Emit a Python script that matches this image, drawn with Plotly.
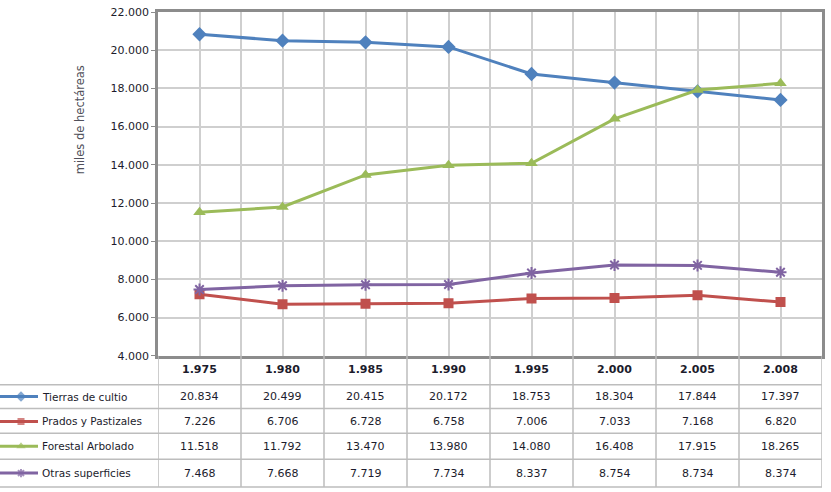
import plotly.graph_objects as go

years = [1975, 1980, 1985, 1990, 1995, 2000, 2005, 2008]
series_names = ["Tierras de cultio", "Prados y Pastizales", "Forestal Arbolado", "Otras superficies"]
tierras = [20834, 20499, 20415, 20172, 18753, 18304, 17844, 17397]
prados = [7226, 6706, 6728, 6758, 7006, 7033, 7168, 6820]
forestal = [11518, 11792, 13470, 13980, 14080, 16408, 17915, 18265]
otras = [7468, 7668, 7719, 7734, 8337, 8754, 8734, 8374]
y_ticks = [4000, 6000, 8000, 10000, 12000, 14000, 16000, 18000, 20000, 22000]

series = [tierras, prados, forestal, otras]
colors = ["#4F81BD", "#C0504D", "#9BBB59", "#8064A2"]
symbols = ["diamond", "square", "triangle-up", "asterisk-open"]
msizes = [11, 10, 11, 10]

W, H = 831, 492
ML, MR, MT, MB = 0, 9, 12, 4
PW, PH = W - ML - MR, H - MT - MB
FONT = "DejaVu Sans"
TXT = "#1c1c2c"


def px(x):
    return (x - ML) / PW


def py(y):
    return (H - MB - y) / PH


def fmt(v):
    return f"{v:,}".replace(",", ".")


xs = list(range(len(years)))
fig = go.Figure()
for name, vals, c, s, ms in zip(series_names, series, colors, symbols, msizes):
    fig.add_trace(go.Scatter(
        x=xs, y=vals, name=name, mode="lines+markers",
        line=dict(color=c, width=3),
        marker=dict(symbol=s, size=ms, color=c, line=dict(color=c, width=2 if "asterisk" in s else 0)),
        showlegend=False, xaxis="x", yaxis="y"))

# legend keys in table left column
row_centers = [399, 424, 449, 476]
for name, c, s, ms, rc in zip(series_names, colors, symbols, msizes, row_centers):
    fig.add_trace(go.Scatter(
        x=[0, 21, 38], y=[rc, rc, rc], mode="lines+markers",
        line=dict(color=c, width=3),
        marker=dict(symbol=s, size=[0, ms - 3, 0], color=c,
                    line=dict(color=c, width=2 if "asterisk" in s else 0)),
        showlegend=False, xaxis="x2", yaxis="y2", hoverinfo="skip"))

dom_bottom = py(358)
fig.update_layout(
    width=W, height=H,
    margin=dict(l=ML, r=MR, t=MT, b=MB),
    paper_bgcolor="white", plot_bgcolor="white",
    separators=",.",
    font=dict(family=FONT, size=11, color=TXT),
    xaxis=dict(domain=[px(158), 1], range=[-0.5, 7.5], dtick=0.5, tick0=-0.5,
               showticklabels=False, showgrid=True, gridcolor="#CFCFCF", gridwidth=1.5,
               zeroline=False, showline=True, mirror=True, linecolor="#8C8C8C", linewidth=2.5),
    yaxis=dict(domain=[dom_bottom, 1], range=[4000, 22000], tickvals=y_ticks,
               tickformat=",d", showgrid=True, gridcolor="#CFCFCF", gridwidth=1.5,
               zeroline=False, showline=True, mirror=True, linecolor="#8C8C8C", linewidth=2.5,
               ticks="outside", ticklen=4, tickcolor="#8C8C8C",
               tickfont=dict(size=11, color=TXT, family=FONT)),
    xaxis2=dict(domain=[0, px(158)], range=[0, 158], visible=False, anchor="y2"),
    yaxis2=dict(domain=[0, dom_bottom], range=[H - MB, 358], visible=False, anchor="x2"),
)

shapes = []
annotations = []
# table horizontal lines
for yy in [387, 411, 436, 462, 490]:
    shapes.append(dict(type="line", xref="paper", yref="paper", x0=0, x1=1,
                       y0=py(yy), y1=py(yy), line=dict(color="#BDBDBD", width=1.5)))
# table vertical lines (category boundaries)
for i in range(len(years) + 1):
    shapes.append(dict(type="line", xref="x", yref="paper", x0=i - 0.5, x1=i - 0.5,
                       y0=py(358), y1=py(490), line=dict(color="#BDBDBD", width=1.5)))

for i, yr in enumerate(years):
    annotations.append(dict(xref="x", yref="paper", x=i, y=py(372), text=f"<b>{fmt(yr)}</b>",
                            xanchor="center", yanchor="middle",
                            showarrow=False, font=dict(size=11, color=TXT)))
    for vals, rc in zip(series, row_centers):
        annotations.append(dict(xref="x", yref="paper", x=i, y=py(rc), text=fmt(vals[i]),
                                xanchor="center", yanchor="middle",
                                showarrow=False, font=dict(size=11, color=TXT)))

for name, rc in zip(series_names, row_centers):
    annotations.append(dict(xref="paper", yref="paper", x=px(40), y=py(rc), text=name,
                            xanchor="left", yanchor="middle", showarrow=False,
                            font=dict(size=10.5, color=TXT)))

annotations.append(dict(xref="paper", yref="paper", x=px(80), y=py(121), text="miles de hectáreas",
                        textangle=-90, xanchor="center", yanchor="middle", showarrow=False,
                        font=dict(size=11.5, color="#50505a")))

fig.update_layout(shapes=shapes, annotations=annotations)
fig.write_html("out.html")
